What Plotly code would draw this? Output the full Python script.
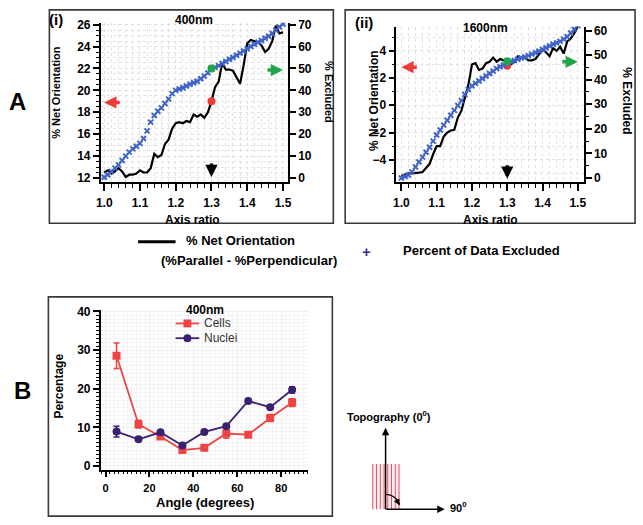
import math
import plotly.graph_objects as go

# ---------------- data ----------------
ratio = [1.00, 1.01, 1.02, 1.03, 1.04, 1.05, 1.06, 1.07, 1.08, 1.09,
         1.10, 1.11, 1.12, 1.13, 1.14, 1.15, 1.16, 1.17, 1.18, 1.19,
         1.20, 1.21, 1.22, 1.23, 1.24, 1.25, 1.26, 1.27, 1.28, 1.29,
         1.30, 1.31, 1.32, 1.33, 1.34, 1.35, 1.36, 1.37, 1.38, 1.39,
         1.40, 1.41, 1.42, 1.43, 1.44, 1.45, 1.46, 1.47, 1.48, 1.49, 1.50]

net_400 = [12.5, 12.7, 12.4, 12.6, 12.9, 12.6, 12.1, 12.3, 12.3, 12.4,
           12.7, 12.5, 12.5, 12.9, 14.2, 13.9, 14.1, 15.1, 15.5, 16.5,
           17.0, 17.1, 17.0, 17.2, 17.1, 17.8, 17.6, 17.8, 17.5, 18.0,
           19.0, 20.3, 20.8, 22.5, 21.9, 21.9, 21.8, 21.2, 20.6, 22.3,
           24.3, 24.6, 24.5, 24.4, 24.1, 23.5, 23.8, 24.5, 25.9, 25.2, 25.3]

excl_400 = [0.3, 1.5, 3.0, 4.5, 6.0, 8.0, 10.0, 11.8, 13.3, 14.5,
            15.8, 18.0, 21.5, 25.5, 28.5, 30.5, 32.0, 34.0, 36.0, 38.5,
            40.0, 40.6, 41.2, 42.0, 42.8, 43.5, 44.2, 45.3, 46.5, 48.0,
            49.8, 50.5, 51.3, 52.3, 53.2, 54.2, 55.0, 56.0, 57.0, 58.0,
            59.0, 60.0, 61.0, 62.0, 62.8, 63.8, 64.7, 66.0, 67.5, 69.0, 70.3]

net_1600 = [-5.2, -5.1, -5.0, -5.0, -5.0, -4.95, -4.9, -4.6, -4.3, -3.6,
            -3.0, -3.0, -2.3, -2.0, -1.85, -1.8, -0.9, -0.4, 0.5, 1.5,
            3.0, 3.1, 2.6, 2.7, 3.1, 3.2, 3.5, 3.2, 3.4, 3.3,
            3.0, 3.0, 3.2, 3.6, 3.5, 3.5, 3.3, 3.3, 3.4, 3.8,
            4.1, 3.9, 3.6, 4.2, 4.0, 4.3, 3.8, 4.7, 4.9, 5.3, 5.8]

excl_1600 = [0.0, 0.6, 1.2, 2.5, 4.5, 6.5, 8.5, 10.5, 12.5, 15.0,
             17.5, 19.5, 21.5, 23.5, 25.5, 27.5, 29.5, 31.5, 34.0, 36.0,
             37.5, 38.5, 39.5, 40.5, 41.5, 42.5, 43.5, 44.5, 45.3, 46.0,
             46.8, 47.3, 47.8, 48.3, 48.8, 49.3, 49.8, 50.4, 51.0, 51.6,
             52.3, 53.0, 53.7, 54.4, 55.0, 55.6, 56.5, 57.5, 59.0, 60.5, 62.0]

mark_ratio = [1.3]
net_400_mark = [19.0]
excl_400_mark = [50.0]
net_1600_mark = [2.9]
excl_1600_mark = [47.5]

angles = [5, 15, 25, 35, 45, 55, 65, 75, 85]
cells = [28.5, 10.8, 7.6, 4.1, 4.7, 8.4, 8.1, 12.4, 16.4]
cells_err = [3.3, 1.0, 0.6, 0.5, 0.4, 1.2, 0.6, 0.9, 1.0]
nuclei = [8.9, 6.9, 8.7, 5.3, 8.8, 10.3, 16.8, 15.2, 19.7]
nuclei_err = [1.4, 0.5, 0.5, 0.5, 0.5, 0.5, 0.6, 0.5, 0.8]

# ---------------- helpers ----------------
W, H = 643, 525
def fx(p):
    return p / W
def fy(p):
    return 1 - p / H

FONT = "Liberation Sans, Arial, sans-serif"
TF = dict(family=FONT, size=12, color="black", weight="bold")
TFB = dict(family=FONT, size=11, color="black", weight="bold")
GRID = "#e2e2e2"
BLUE = "#4063c8"
RED = "#f03a3a"
GREEN = "#1fa64a"
PURPLE = "#3b2070"
CELLRED = "#ef4444"

def xax_A(domain, rng, anchor):
    return dict(domain=domain, range=rng, anchor=anchor, showline=True,
                linecolor="black", linewidth=1.5, ticks="outside", ticklen=7,
                tickwidth=1.5, tickcolor="black", tick0=1.0, dtick=0.1,
                tickformat=".1f", tickfont=TF, ticklabelstandoff=2,
                showgrid=True, gridcolor=GRID, griddash="dot", zeroline=False,
                minor=dict(dtick=0.02, ticks="outside", ticklen=4, tickwidth=1,
                           tickcolor="black", showgrid=True, gridcolor=GRID,
                           griddash="dot"))

def yax_left(domain, rng, anchor, dtick, tick0, mdt):
    return dict(domain=domain, range=rng, anchor=anchor, showline=True,
                linecolor="black", linewidth=1.5, ticks="outside", ticklen=6,
                tickwidth=1.5, tickcolor="black", tick0=tick0, dtick=dtick,
                tickfont=TF, showgrid=True, gridcolor=GRID, griddash="dot",
                zeroline=False,
                minor=dict(dtick=mdt, ticks="outside", ticklen=3, tickwidth=1,
                           tickcolor="black", showgrid=True, gridcolor=GRID,
                           griddash="dot"))

def yax_right(over, rng, anchor, mdt=None):
    d = dict(overlaying=over, side="right", anchor=anchor, range=rng,
             showline=True, linecolor="black", linewidth=1.5, ticks="outside",
             ticklen=6, tickwidth=1.5, tickcolor="black", tick0=0, dtick=10,
             tickfont=TF, showgrid=False, zeroline=False)
    if mdt:
        d["minor"] = dict(dtick=mdt, ticks="outside", ticklen=3, tickwidth=1,
                          tickcolor="black", showgrid=False)
    return d

fig = go.Figure()

# ---- panel (i) ----
fig.add_trace(go.Scatter(x=ratio, y=excl_400, mode="markers", xaxis="x", yaxis="y2",
                         marker=dict(symbol="x-thin", size=5, color=BLUE,
                                     line=dict(width=2, color=BLUE))))
fig.add_trace(go.Scatter(x=ratio, y=net_400, mode="lines", xaxis="x", yaxis="y",
                         line=dict(color="black", width=2.2)))
fig.add_trace(go.Scatter(x=mark_ratio, y=net_400_mark, mode="markers", xaxis="x", yaxis="y",
                         marker=dict(size=8, color=RED)))
fig.add_trace(go.Scatter(x=mark_ratio, y=excl_400_mark, mode="markers", xaxis="x", yaxis="y2",
                         marker=dict(size=8, color=GREEN)))

# ---- panel (ii) ----
fig.add_trace(go.Scatter(x=ratio, y=excl_1600, mode="markers", xaxis="x2", yaxis="y4",
                         marker=dict(symbol="x-thin", size=5, color=BLUE,
                                     line=dict(width=2, color=BLUE))))
fig.add_trace(go.Scatter(x=ratio, y=net_1600, mode="lines", xaxis="x2", yaxis="y3",
                         line=dict(color="black", width=2.2)))
fig.add_trace(go.Scatter(x=mark_ratio, y=net_1600_mark, mode="markers", xaxis="x2", yaxis="y3",
                         marker=dict(size=8, color=RED)))
fig.add_trace(go.Scatter(x=mark_ratio, y=excl_1600_mark, mode="markers", xaxis="x2", yaxis="y4",
                         marker=dict(size=8, color=GREEN)))

# ---- panel B ----
fig.add_trace(go.Scatter(x=angles, y=cells, mode="lines+markers", name="Cells",
                         xaxis="x3", yaxis="y5",
                         line=dict(color=CELLRED, width=1.8),
                         marker=dict(symbol="square", size=8, color=CELLRED),
                         error_y=dict(type="data", array=cells_err, color=CELLRED,
                                      thickness=1.5, width=3)))
fig.add_trace(go.Scatter(x=angles, y=nuclei, mode="lines+markers", name="Nuclei",
                         xaxis="x3", yaxis="y5",
                         line=dict(color=PURPLE, width=1.8),
                         marker=dict(symbol="circle", size=8, color=PURPLE),
                         error_y=dict(type="data", array=nuclei_err, color=PURPLE,
                                      thickness=1.5, width=3)))

layout = dict(
    width=W, height=H, margin=dict(l=0, r=0, t=0, b=0),
    paper_bgcolor="white", plot_bgcolor="white", showlegend=False,
    font=dict(family=FONT, color="black"),
    xaxis=xax_A([fx(97), fx(287)], [0.990, 1.514], "y"),
    yaxis=yax_left([fy(180), fy(18)], [11.64, 26.18], "x", 2, 12, 0.5),
    yaxis2=yax_right("y", [-1.79, 70.9], "x"),
    xaxis2=xax_A([fx(397), fx(587)], [0.986, 1.517], "y3"),
    yaxis3=yax_left([fy(180), fy(22)], [-5.63, 5.78], "x2", 2, 0, 1),
    yaxis4=yax_right("y3", [-1.6, 61.6], "x2", 5),
    xaxis3=dict(domain=[fx(97), fx(307)], range=[-2.24, 92.1], anchor="y5",
                showline=True, linecolor="black", linewidth=1.5, ticks="outside",
                ticklen=6, tickwidth=1.5, tickcolor="black", tick0=0, dtick=20,
                tickfont=TFB, ticklabelstandoff=1, showgrid=True, gridcolor="#f0f0f0",
                zeroline=False,
                minor=dict(dtick=2, ticks="outside", ticklen=3, tickwidth=1,
                           tickcolor="black", showgrid=True, gridcolor="#f4f4f4")),
    yaxis5=dict(domain=[fy(472.7), fy(310)], range=[-0.94, 40.43], anchor="x3",
                showline=True, linecolor="black", linewidth=1.5, ticks="outside",
                ticklen=6, tickwidth=1.5, tickcolor="black", tick0=0, dtick=10,
                tickfont=TF, showgrid=True, gridcolor="#f0f0f0", zeroline=False,
                minor=dict(dtick=1, ticks="outside", ticklen=3, tickwidth=1,
                           tickcolor="black", showgrid=True, gridcolor="#f4f4f4")),
)
fig.update_layout(**layout)

# ---------------- annotations ----------------
ann = []
def txt(t, x, y, size=12, bold=True, angle=0, xanchor="center", color="black"):
    ann.append(dict(text=t, x=fx(x), y=fy(y), xref="paper", yref="paper",
                    showarrow=False, xanchor=xanchor, yanchor="middle",
                    textangle=angle,
                    font=dict(family=FONT, size=size, color=color,
                              weight="bold" if bold else "normal")))

txt("A", 13, 98, size=24)
txt("B", 18, 392, size=24)
txt("(i)", 52, 15, size=15)
txt("400nm", 192, 15, size=12)
txt("(ii)", 364, 18, size=15)
txt("1600nm", 487, 23, size=12)
txt("% Net Orientation", 52, 89, size=11, angle=-90)
txt("% Net Orientation", 375, 97, size=12, angle=-90)
txt("% Excluded", 328, 89, size=11, angle=90)
txt("% Excluded", 630, 97, size=12, angle=90)
txt("Axis ratio", 190, 219, size=12)
txt("Axis ratio", 492, 219, size=12)
txt("% Net Orientation", 239, 240, size=13)
txt("(%Parallel - %Perpendicular)", 247, 260, size=13)
txt("+", 367, 251, size=15, color="#3d2b8a")
txt("Percent of Data Excluded", 402, 250, size=13, xanchor="left")
txt("Percentage", 55, 388, size=12, angle=-90)
txt("Angle (degrees)", 203, 506, size=13)
txt("Topography (0<sup>0</sup>)", 389, 418, size=11)
txt("90<sup>0</sup>", 449, 511, size=11, xanchor="left")
# panel B legend
txt("400nm", 203, 310, size=12)
txt("Cells", 200, 324, size=12, bold=False, xanchor="left", color="#333")
txt("Nuclei", 200, 339, size=12, bold=False, xanchor="left", color="#333")

def arrow(x, y, xr, yr, ax, ay, color, w=3.5, size=0.7):
    ann.append(dict(text="", x=x, y=y, xref=xr, yref=yr, ax=ax, ay=ay,
                    showarrow=True, arrowhead=2, arrowsize=size, arrowwidth=w,
                    arrowcolor=color, standoff=0))

arrow(1.0, 18.9, "x", "y", 17, 0, RED)
arrow(1.5, 49.3, "x", "y2", -17, 0, GREEN)
arrow(1.3, 12.1, "x", "y", 0, -15, "black")
arrow(1.0, 2.8, "x2", "y3", 17, 0, RED)
arrow(1.5, 47.3, "x2", "y4", -17, 0, GREEN)
arrow(1.3, -0.3, "x2", "y4", 0, -15, "black")

# diagram arrows
arrow(fx(386), fy(430), "paper", "paper", 0, 83, "black", w=1.5, size=1)
arrow(fx(446), fy(513), "paper", "paper", -60, 0, "black", w=1.5, size=1)
arrow(fx(400), fy(509), "paper", "paper", -3, -6, "black", w=1.2, size=1)

fig.update_layout(annotations=ann)

# ---------------- shapes ----------------
shapes = []
def rect(x0, y0, x1, y1, color="#3a3a3a", width=1.6, fill=None, layer="below"):
    shapes.append(dict(type="rect", xref="paper", yref="paper",
                       x0=fx(x0), x1=fx(x1), y0=fy(y1), y1=fy(y0),
                       line=dict(color=color, width=width) if width else dict(width=0),
                       fillcolor=fill, layer=layer))
rect(45, 5, 333, 222)
rect(345, 5, 639, 222)
rect(44, 297, 332, 520)

# legend line sample for panel A
shapes.append(dict(type="line", xref="paper", yref="paper", x0=fx(135), x1=fx(173),
                   y0=fy(241), y1=fy(241), line=dict(color="black", width=3)))

# panel B legend symbols
shapes.append(dict(type="line", xref="paper", yref="paper", x0=fx(173), x1=fx(197),
                   y0=fy(324), y1=fy(324), line=dict(color=CELLRED, width=1.8)))
rect(181, 320, 189, 328, width=0, fill=CELLRED, layer="above")
shapes.append(dict(type="line", xref="paper", yref="paper", x0=fx(173), x1=fx(197),
                   y0=fy(339), y1=fy(339), line=dict(color=PURPLE, width=1.8)))
shapes.append(dict(type="circle", xref="paper", yref="paper", x0=fx(181), x1=fx(189),
                   y0=fy(343), y1=fy(335), line=dict(width=0), fillcolor=PURPLE))

# topography diagram
rect(372, 467, 401, 513, width=0, fill="rgba(255,200,205,0.35)")
for xl in [373, 376.8, 380.6, 384.4, 388.2, 392, 395.8, 399.6]:
    shapes.append(dict(type="line", xref="paper", yref="paper", x0=fx(xl), x1=fx(xl),
                       y0=fy(467), y1=fy(513), line=dict(color="#e05565", width=1)))
pts = []
for k in range(0, 9):
    a = math.radians(90 - k * 9)
    pts.append((386 + 15 * math.cos(a), 513 - 15 * math.sin(a)))
path = "M " + " L ".join(f"{fx(px_)},{fy(py_)}" for px_, py_ in pts)
shapes.append(dict(type="path", xref="paper", yref="paper", path=path,
                   line=dict(color="black", width=1.2)))
fig.update_layout(shapes=shapes)

fig.write_html("out.html", config={"displayModeBar": False},
               post_script="document.body.style.margin='0px';document.body.style.overflow='hidden';")
